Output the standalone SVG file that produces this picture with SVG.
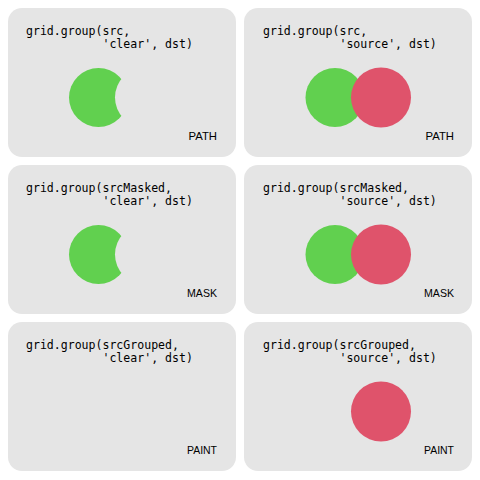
<svg xmlns="http://www.w3.org/2000/svg" width="480" height="480" viewBox="0 0 480 480">
<style>
.panel{fill:#e5e5e5}
.code{font-family:"DejaVu Sans Mono",monospace;font-size:11.55px;fill:#000;white-space:pre}
.lab{font-family:"Liberation Sans",Arial,sans-serif;font-size:11.5px;fill:#000;text-anchor:end}
.g{fill:#61d04f}
.r{fill:#df536b}
</style>
<defs>
<mask id="cut"><rect x="0" y="0" width="480" height="480" fill="#fff"/><circle cx="145" cy="97.5" r="30" fill="#000"/></mask>
<mask id="cut2"><rect x="0" y="0" width="480" height="480" fill="#fff"/><circle cx="145" cy="254.5" r="30" fill="#000"/></mask>
</defs>
<rect width="480" height="480" fill="#fff"/>
<g id="p1">
<rect class="panel" x="8" y="8" width="228" height="149" rx="14"/>
<text class="code" x="26" y="34.5">grid.group(src,</text>
<text class="code" x="26" y="48.3">           'clear', dst)</text>
<circle class="g" cx="98.5" cy="97.5" r="29.5" mask="url(#cut)"/>
<text class="lab" x="217" y="139.5" textLength="28.5" lengthAdjust="spacingAndGlyphs">PATH</text>
</g>
<g id="p2">
<rect class="panel" x="244" y="8" width="228" height="149" rx="14"/>
<text class="code" x="263" y="34.5">grid.group(src,</text>
<text class="code" x="263" y="48.3">           'source', dst)</text>
<circle class="g" cx="335" cy="97.5" r="29.5"/>
<circle class="r" cx="381" cy="97.5" r="30"/>
<text class="lab" x="454" y="139.5" textLength="28.5" lengthAdjust="spacingAndGlyphs">PATH</text>
</g>
<g id="p3">
<rect class="panel" x="8" y="165" width="228" height="149" rx="14"/>
<text class="code" x="26" y="191.5">grid.group(srcMasked,</text>
<text class="code" x="26" y="205.3">           'clear', dst)</text>
<circle class="g" cx="98.5" cy="254.5" r="29.5" mask="url(#cut2)"/>
<text class="lab" x="217" y="296.5" textLength="30" lengthAdjust="spacingAndGlyphs">MASK</text>
</g>
<g id="p4">
<rect class="panel" x="244" y="165" width="228" height="149" rx="14"/>
<text class="code" x="263" y="191.5">grid.group(srcMasked,</text>
<text class="code" x="263" y="205.3">           'source', dst)</text>
<circle class="g" cx="335" cy="254.5" r="29.5"/>
<circle class="r" cx="381" cy="254.5" r="30"/>
<text class="lab" x="454" y="296.5" textLength="30" lengthAdjust="spacingAndGlyphs">MASK</text>
</g>
<g id="p5">
<rect class="panel" x="8" y="322" width="228" height="149" rx="14"/>
<text class="code" x="26" y="348.5">grid.group(srcGrouped,</text>
<text class="code" x="26" y="362.3">           'clear', dst)</text>
<text class="lab" x="217" y="453.5" textLength="30" lengthAdjust="spacingAndGlyphs">PAINT</text>
</g>
<g id="p6">
<rect class="panel" x="244" y="322" width="228" height="149" rx="14"/>
<text class="code" x="263" y="348.5">grid.group(srcGrouped,</text>
<text class="code" x="263" y="362.3">           'source', dst)</text>
<circle class="r" cx="381" cy="411.5" r="30"/>
<text class="lab" x="454" y="453.5" textLength="30" lengthAdjust="spacingAndGlyphs">PAINT</text>
</g>
<g id="connectors"/>
</svg>
